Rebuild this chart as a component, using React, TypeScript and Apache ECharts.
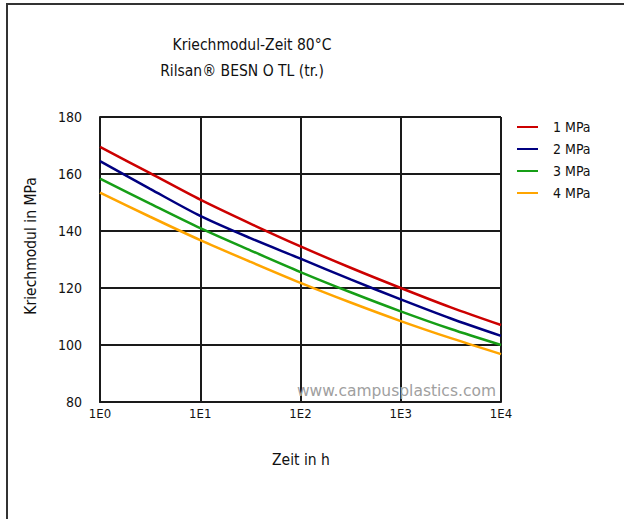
import React, { useEffect, useRef } from "react";
import * as echarts from "echarts";

const times = [1, 3.16, 10, 31.6, 100, 316, 1000, 3160, 10000];
const seriesNames = ["1 MPa", "2 MPa", "3 MPa", "4 MPa"];
const mpa1 = [169.5, 160.3, 151.0, 142.6, 134.6, 127.1, 120.0, 113.2, 107.0];
const mpa2 = [164.5, 154.8, 145.3, 137.5, 130.3, 123.0, 116.0, 109.3, 103.2];
const mpa3 = [158.4, 149.6, 141.0, 133.2, 125.6, 118.5, 111.8, 105.6, 100.0];
const mpa4 = [153.5, 145.0, 136.8, 129.2, 121.8, 114.9, 108.4, 102.4, 96.8];
const seriesValues = [mpa1, mpa2, mpa3, mpa4];
const colors = ["#cc0000", "#000080", "#169e16", "#ffa500"];
const yTicks = { min: 80, max: 180, interval: 20 };
const titleLines = ["Kriechmodul-Zeit 80°C", "Rilsan® BESN O TL (tr.)"];
const xName = "Zeit in h";
const yName = "Kriechmodul in MPa";
const watermark = "www.campusplastics.com";

const FONT = "'DejaVu Sans Condensed', 'DejaVu Sans', sans-serif";

export default function App() {
  const ref = useRef<HTMLDivElement>(null);
  useEffect(() => {
    document.body.style.margin = "0";
    if (!ref.current) return;
    const chart = echarts.init(ref.current, undefined, { renderer: "svg" });
    chart.setOption({
      animation: false,
      backgroundColor: "#fff",
      grid: { left: 100, top: 117, width: 401, height: 285, containLabel: false },
      legend: {
        orient: "vertical",
        left: 512,
        top: 115,
        itemWidth: 21,
        itemHeight: 2,
        itemGap: 8,
        icon: "rect",
        textStyle: { fontFamily: FONT, fontSize: 14, color: "#111", padding: [0, 0, 0, 10] },
        data: seriesNames,
      },
      xAxis: {
        type: "log",
        logBase: 10,
        min: 1,
        max: 10000,
        axisLine: { show: true, lineStyle: { color: "#1a1a1a", width: 2 } },
        axisTick: { show: false },
        splitLine: { show: true, lineStyle: { color: "#1a1a1a", width: 2 } },
        axisLabel: {
          margin: 5,
          fontFamily: FONT,
          fontSize: 13,
          color: "#111",
          formatter: (v: number) => "1E" + Math.round(Math.log10(v)),
        },
      },
      yAxis: {
        type: "value",
        min: yTicks.min,
        max: yTicks.max,
        interval: yTicks.interval,
        axisLine: { show: true, lineStyle: { color: "#1a1a1a", width: 2 } },
        axisTick: { show: false },
        splitLine: { show: true, lineStyle: { color: "#1a1a1a", width: 2 } },
        axisLabel: { margin: 18, fontFamily: FONT, fontSize: 14, color: "#111" },
      },
      series: seriesNames.map((name, i) => ({
        name,
        type: "line",
        data: times.map((t, j) => [t, seriesValues[i][j]]),
        smooth: 0.3,
        showSymbol: false,
        symbol: "none",
        lineStyle: { color: colors[i], width: 2.5 },
        itemStyle: { color: colors[i] },
        z: 3,
      })),
      graphic: [
        { type: "line", shape: { x1: 6, y1: 4, x2: 624, y2: 4 }, style: { stroke: "#333", lineWidth: 2 } },
        { type: "line", shape: { x1: 7, y1: 3, x2: 7, y2: 519 }, style: { stroke: "#333", lineWidth: 2 } },
        {
          type: "text",
          x: 252,
          y: 45,
          style: { text: titleLines[0], fontFamily: FONT, fontSize: 15.5, fill: "#111", align: "center", verticalAlign: "middle" },
        },
        {
          type: "text",
          x: 242,
          y: 71,
          style: { text: titleLines[1], fontFamily: FONT, fontSize: 15.5, fill: "#111", align: "center", verticalAlign: "middle" },
        },
        {
          type: "text",
          x: 301,
          y: 460,
          style: { text: xName, fontFamily: FONT, fontSize: 15.5, fill: "#111", align: "center", verticalAlign: "middle" },
        },
        {
          type: "text",
          x: 31,
          y: 246,
          rotation: Math.PI / 2,
          style: { text: yName, fontFamily: FONT, fontSize: 15.5, fill: "#111", align: "center", verticalAlign: "middle" },
        },
        {
          type: "text",
          x: 496,
          y: 391,
          z: 10,
          style: { text: watermark, fontFamily: "'DejaVu Sans', sans-serif", fontSize: 15.5, fill: "#a0a0a0", align: "right", verticalAlign: "middle" },
        },
      ],
    });
    return () => chart.dispose();
  }, []);
  return <div ref={ref} style={{ width: 624, height: 519 }} />;
}
